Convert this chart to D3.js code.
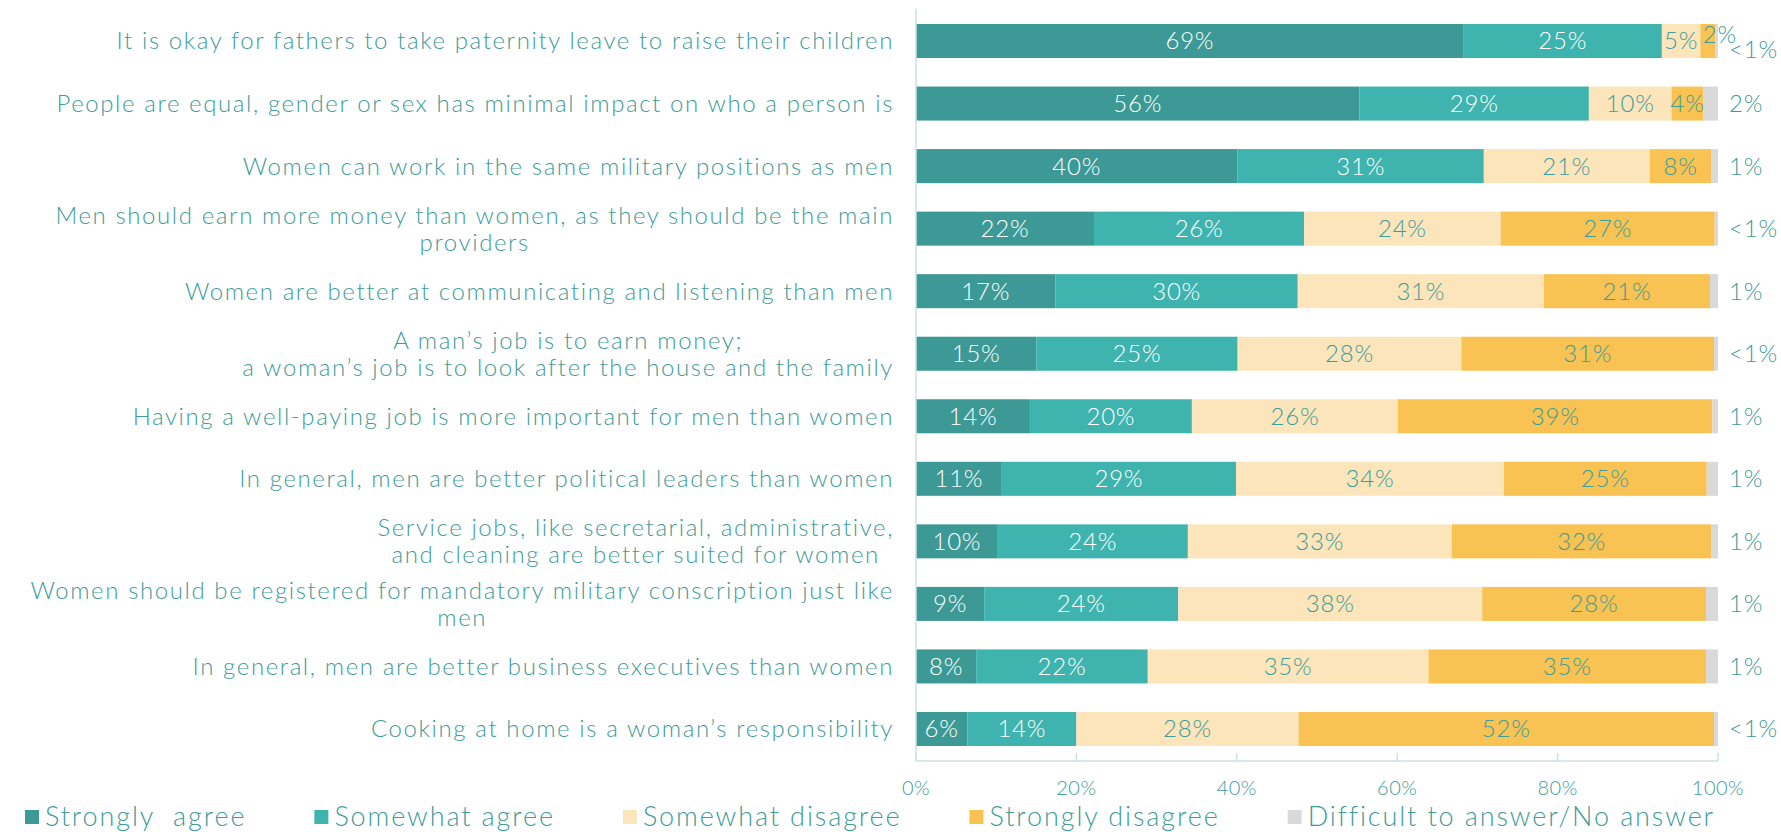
<!DOCTYPE html>
<html>
<head>
<meta charset="utf-8">
<script src="https://cdn.jsdelivr.net/npm/d3@7"></script>
<style>
  body { margin: 0; background: #fff; }
  svg text { font-family: Lato, "Open Sans", sans-serif; font-weight: 300; }
</style>
</head>
<body>
<svg id="drawing_region"></svg>
<script>
// categories, top to bottom (line breaks as in the original)
const categories = [
    ["It is okay for fathers to take paternity leave to raise their children"],
    ["People are equal, gender or sex has minimal impact on who a person is"],
    ["Women can work in the same military positions as men"],
    ["Men should earn more money than women, as they should be the main", "providers"],
    ["Women are better at communicating and listening than men"],
    ["A man\u2019s job is to earn money;", "a woman\u2019s job is to look after the house and the family"],
    ["Having a well-paying job is more important for men than women"],
    ["In general, men are better political leaders than women"],
    ["Service jobs, like secretarial, administrative,", "and cleaning are better suited for women"],
    ["Women should be registered for mandatory military conscription just like", "men"],
    ["In general, men are better business executives than women"],
    ["Cooking at home is a woman\u2019s responsibility"]
];

const seriesNames = ["Strongly  agree", "Somewhat agree", "Somewhat disagree", "Strongly disagree", "Difficult to answer/No answer"];

// shares (percent)
const stronglyAgree    = [68.3, 55.3, 40.1, 22.2, 17.4, 15.0, 14.2, 10.7, 10.2, 8.5, 7.5, 6.4];
const somewhatAgree    = [24.7, 28.6, 30.7, 26.2, 30.2, 25.1, 20.2, 29.2, 23.7, 24.2, 21.4, 13.6];
const somewhatDisagree = [4.8, 10.3, 20.7, 24.5, 30.7, 27.9, 25.7, 33.4, 32.9, 37.9, 35.0, 27.7];
const stronglyDisagree = [1.9, 4.0, 7.7, 26.7, 20.7, 31.5, 39.2, 25.3, 32.4, 27.9, 34.6, 51.8];
const noAnswer         = [0.3, 1.8, 0.8, 0.4, 1.0, 0.5, 0.7, 1.4, 0.8, 1.5, 1.5, 0.5];

// printed labels
const labelsStronglyAgree    = ["69%", "56%", "40%", "22%", "17%", "15%", "14%", "11%", "10%", "9%", "8%", "6%"];
const labelsSomewhatAgree    = ["25%", "29%", "31%", "26%", "30%", "25%", "20%", "29%", "24%", "24%", "22%", "14%"];
const labelsSomewhatDisagree = ["5%", "10%", "21%", "24%", "31%", "28%", "26%", "34%", "33%", "38%", "35%", "28%"];
const labelsStronglyDisagree = ["2%", "4%", "8%", "27%", "21%", "31%", "39%", "25%", "32%", "28%", "35%", "52%"];
const labelsNoAnswer         = ["<1%", "2%", "1%", "<1%", "1%", "<1%", "1%", "1%", "1%", "1%", "1%", "<1%"];

const xTicks = [0, 20, 40, 60, 80, 100];

const colors = ["#3c9996", "#3fb3ae", "#fce5bb", "#f8c352", "#d9d9d9"];
const labelColors = ["#ffffff", "#ffffff", "#3e9c99", "#3e9c99", "#3e9c99"];
const textColor = "#3e9c99";
const axisColor = "#cde2e2";

const config = {
    width: 1781,
    height: 832,
    margin: {top: 9, right: 63, bottom: 71, left: 916}
};

const series = [stronglyAgree, somewhatAgree, somewhatDisagree, stronglyDisagree, noAnswer];
const seriesLabels = [labelsStronglyAgree, labelsSomewhatAgree, labelsSomewhatDisagree, labelsStronglyDisagree, labelsNoAnswer];

const svg = d3.select('#drawing_region')
    .attr('width', config.width)
    .attr('height', config.height);

const inner_width = config.width - config.margin.left - config.margin.right;
const inner_height = config.height - config.margin.top - config.margin.bottom;

const chart = svg.append('g')
    .attr('transform', `translate(${config.margin.left}, ${config.margin.top})`);

const xscale = d3.scaleLinear()
    .domain([0, 100])
    .range([0, inner_width]);

const yscale = d3.scaleBand()
    .domain(d3.range(categories.length))
    .range([0, inner_height])
    .paddingInner(0.456)
    .paddingOuter(0.24);

// build stacked segments
const segments = [];
categories.forEach((c, i) => {
    let x0 = 0;
    series.forEach((s, k) => {
        segments.push({row: i, k: k, x0: x0, x1: x0 + s[i], label: seriesLabels[k][i]});
        x0 += s[i];
    });
});

chart.selectAll('rect.seg')
    .data(segments)
    .join('rect')
    .attr('class', 'seg')
    .attr('x', d => xscale(d.x0))
    .attr('y', d => yscale(d.row))
    .attr('width', d => xscale(d.x1) - xscale(d.x0))
    .attr('height', yscale.bandwidth())
    .attr('fill', d => colors[d.k]);

// value labels
chart.selectAll('text.val')
    .data(segments)
    .join('text')
    .attr('class', 'val')
    .attr('text-anchor', d => d.k === 4 ? 'start' : 'middle')
    .attr('x', d => {
        if (d.k === 4) return inner_width + 11;
        const w = xscale(d.x1) - xscale(d.x0);
        const cx = xscale((d.x0 + d.x1) / 2);
        return w < 20 ? cx + 12 : cx;
    })
    .attr('y', d => {
        const cy = yscale(d.row) + yscale.bandwidth() / 2;
        const w = xscale(d.x1) - xscale(d.x0);
        if (d.k === 4 && d.row === 0) return cy + 9;
        if (d.k !== 4 && w < 20) return cy - 6;
        return cy;
    })
    .attr('dy', '0.35em')
    .style('font-size', '24px')
    .style('letter-spacing', '0.8px')
    .attr('fill', d => labelColors[d.k])
    .text(d => d.label);

// axes lines
chart.append('line')
    .attr('x1', 0).attr('x2', 0)
    .attr('y1', 0).attr('y2', inner_height)
    .attr('stroke', axisColor).attr('stroke-width', 1.5);
chart.append('line')
    .attr('x1', 0).attr('x2', inner_width)
    .attr('y1', inner_height).attr('y2', inner_height)
    .attr('stroke', axisColor).attr('stroke-width', 1.5);

chart.selectAll('line.tick')
    .data(xTicks)
    .join('line')
    .attr('class', 'tick')
    .attr('x1', d => xscale(d)).attr('x2', d => xscale(d))
    .attr('y1', inner_height - 8).attr('y2', inner_height)
    .attr('stroke', axisColor).attr('stroke-width', 1.5);

chart.selectAll('text.tick')
    .data(xTicks)
    .join('text')
    .attr('class', 'tick')
    .attr('x', d => xscale(d))
    .attr('y', inner_height + 27)
    .attr('dy', '0.35em')
    .attr('text-anchor', 'middle')
    .style('font-size', '20px')
    .style('letter-spacing', '0.5px')
    .attr('fill', textColor)
    .text(d => d + '%');

// category labels, multi-line blocks centred and right aligned
const lineHeight = 27;
categories.forEach((lines, i) => {
    const cy = yscale(i) + yscale.bandwidth() / 2;
    const g = chart.append('g');
    const texts = g.selectAll('text')
        .data(lines)
        .join('text')
        .attr('y', (d, j) => cy + (j - (lines.length - 1) / 2) * lineHeight)
        .attr('dy', '0.35em')
        .style('font-size', '24px')
        .style('letter-spacing', '1.6px')
        .attr('fill', textColor)
        .text(d => d);
    if (lines.length === 1) {
        texts.attr('text-anchor', 'end').attr('x', -22);
    } else {
        const maxw = d3.max(texts.nodes(), n => n.getComputedTextLength());
        texts.attr('text-anchor', 'middle').attr('x', -22 - maxw / 2);
    }
});

// legend
const legend = svg.append('g').attr('transform', 'translate(25, 817)');
let lx = 0;
seriesNames.forEach((name, k) => {
    legend.append('rect')
        .attr('x', lx).attr('y', -7)
        .attr('width', 14).attr('height', 14)
        .attr('fill', colors[k]);
    const t = legend.append('text')
        .attr('x', lx + 20)
        .attr('dy', '0.35em')
        .style('font-size', '27px')
        .style('letter-spacing', '1.9px')
        .style('white-space', 'pre')
        .attr('fill', textColor)
        .text(name);
    lx += 20 + t.node().getComputedTextLength() + 68;
});
</script>
</body>
</html>
